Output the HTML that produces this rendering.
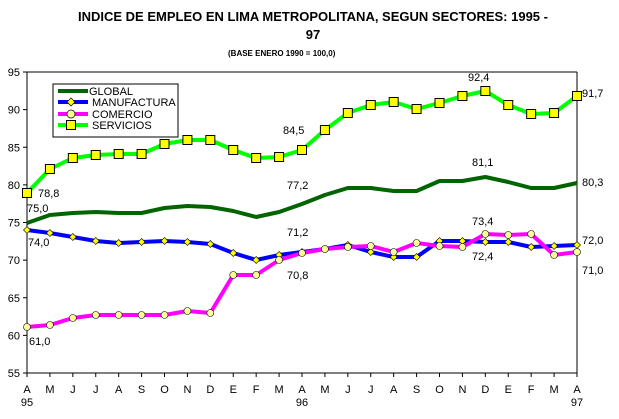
<!DOCTYPE html>
<html><head><meta charset="utf-8"><style>
body{margin:0;background:#fff;}
svg{display:block;font-family:"Liberation Sans",Arial,sans-serif;}
</style></head><body>
<svg id="s" width="619" height="419" viewBox="0 0 619 419" xmlns="http://www.w3.org/2000/svg">
<text x="313" y="21" font-size="13" font-weight="bold" text-anchor="middle">INDICE DE EMPLEO EN LIMA METROPOLITANA, SEGUN SECTORES: 1995 -</text>
<text x="313" y="39" font-size="13" font-weight="bold" text-anchor="middle">97</text>
<text x="228" y="56" font-size="8" font-weight="bold">(BASE ENERO 1990 = 100,0)</text>
<g id="g"></g>
</svg>
<script>
const g=document.getElementById('g');let h='';
const L=27,R=577,T=72,B=373;
h+=`<line x1="${L}" y1="${T}" x2="${R}" y2="${T}" stroke="#000"/><line x1="${R}" y1="${T}" x2="${R}" y2="${B}" stroke="#000"/>`;
h+=`<line x1="${L}" y1="${T}" x2="${L}" y2="${B}" stroke="#000"/><line x1="${L}" y1="${B}" x2="${R}" y2="${B}" stroke="#000"/>`;
for(let v=55;v<=95;v+=5){const y=T+(95-v)*301/40;h+=`<line x1="${L-4}" y1="${y}" x2="${L}" y2="${y}" stroke="#000"/><text x="${L-7}" y="${y+4}" font-size="11" text-anchor="end">${v}</text>`;}
const m="AMJJASONDEFMAMJJASONDEFMA";const X=i=>L+i*550/24;
for(let i=0;i<25;i++){h+=`<line x1="${X(i)}" y1="${B}" x2="${X(i)}" y2="${B+4}" stroke="#000"/><text x="${X(i)}" y="${B+20}" font-size="11" text-anchor="middle">${m[i]}</text>`;}
h+=`<text x="${X(0)}" y="406" font-size="11" text-anchor="middle">95</text><text x="${X(12)}" y="406" font-size="11" text-anchor="middle">96</text><text x="${X(24)}" y="406" font-size="11" text-anchor="middle">97</text>`;
const sv=[193,169,158,155,154,154,144,140,140,150,158,157,150,130,113,105,102,109,103,96,91,105,114,113,96];
const gl=[223,215,213,212,213,213,208,206,207,211,217,212,204,195,188,188,191,191,181,181,177,182,188,188,183];
const mf=[230,233,237,241,243,242,241,242,244,253,260,255,252,249,245,252,257,257,241,241,242,242,247,246,245];
const co=[327,325,318,315,315,315,315,311,313,275,275,260,253,249,247,246,252,243,246,247,234,235,234,255,252];
const pl=(a,c,w)=>`<polyline fill="none" stroke="${c}" stroke-width="${w}" stroke-linejoin="round" points="${a.map((y,i)=>X(i)+','+y).join(' ')}"/>`;
h+=pl(gl,'#006400',4)+pl(mf,'#0000ff',4)+pl(co,'#ff00ff',4)+pl(sv,'#00ff00',4);
mf.forEach((y,i)=>h+=`<polygon points="${X(i)},${y-3.5} ${X(i)+3.5},${y} ${X(i)},${y+3.5} ${X(i)-3.5},${y}" fill="#ffff00" stroke="#000" stroke-width="0.6"/>`);
co.forEach((y,i)=>h+=`<circle cx="${X(i)}" cy="${y}" r="3.5" fill="#ffff99" stroke="#000" stroke-width="0.6"/>`);
sv.forEach((y,i)=>h+=`<rect x="${X(i)-4.5}" y="${y-4.5}" width="9" height="9" fill="#ffff00" stroke="#000" stroke-width="1"/>`);
h+=`<rect x="53" y="84" width="125" height="53" fill="#fff" stroke="#000"/>`;
h+=`<line x1="58" y1="91" x2="88" y2="91" stroke="#006400" stroke-width="4"/><text x="89" y="95" font-size="11">GLOBAL</text>`;
h+=`<line x1="58" y1="102" x2="88" y2="102" stroke="#0000ff" stroke-width="4"/><polygon points="71,98 75,102 71,106 67,102" fill="#ff0" stroke="#000" stroke-width="0.7"/><text x="92" y="106" font-size="11">MANUFACTURA</text>`;
h+=`<line x1="58" y1="114" x2="88" y2="114" stroke="#ff00ff" stroke-width="4"/><circle cx="71" cy="114" r="4" fill="#ff9" stroke="#000" stroke-width="0.7"/><text x="92" y="118" font-size="11">COMERCIO</text>`;
h+=`<line x1="58" y1="125" x2="88" y2="125" stroke="#00ff00" stroke-width="4"/><rect x="66.5" y="120.5" width="9" height="9" fill="#ff0" stroke="#000"/><text x="92" y="129" font-size="11">SERVICIOS</text>`;
const lab=[[38,197,'78,8'],[27,212,'75,0'],[28,246,'74,0'],[29,345,'61,0'],[283,134,'84,5'],[287,189,'77,2'],[287,236,'71,2'],[287,279,'70,8'],[468,81,'92,4'],[472,166,'81,1'],[472,225,'73,4'],[472,260,'72,4'],[582,97,'91,7'],[582,186,'80,3'],[582,244,'72,0'],[582,274,'71,0']];
lab.forEach(([x,y,t])=>h+=`<text x="${x}" y="${y}" font-size="11">${t}</text>`);
g.innerHTML=h;
</script>
</body></html>
